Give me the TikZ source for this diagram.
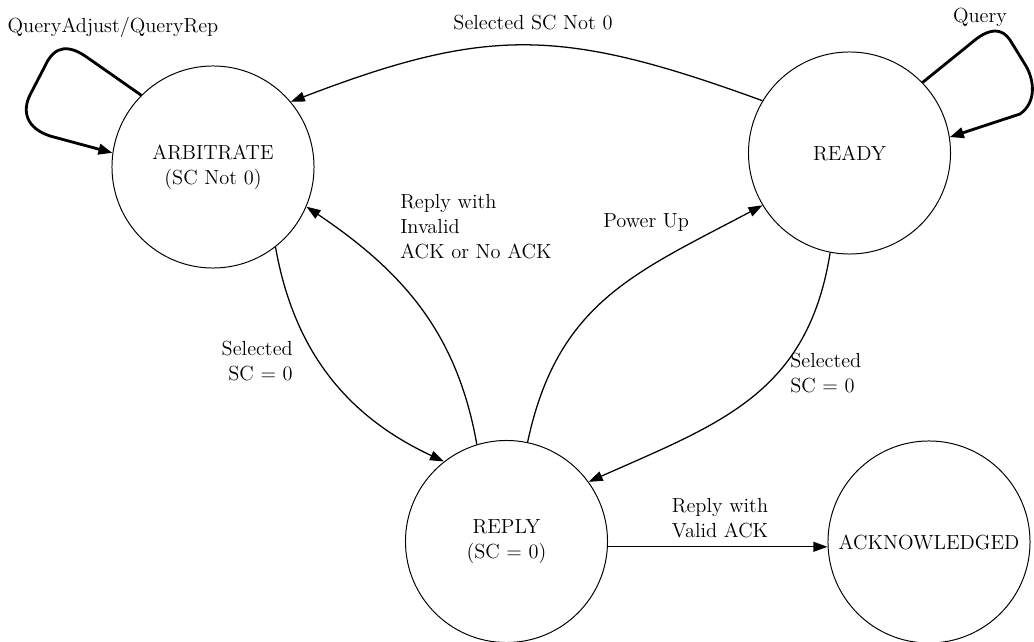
\documentclass[tikz,border=0pt]{standalone}
\usetikzlibrary{arrows.meta}
\begin{document}
\begin{tikzpicture}[x=0.025cm,y=0.025cm,
  every node/.style={font=\fontsize{14.5}{17.8}\selectfont, inner sep=0pt},
  state/.style={circle, draw, line width=0.7pt, minimum size=5.05cm, align=center},
  trans/.style={line width=0.9pt, -{Triangle[length=10pt,width=7pt]}},
  selfloop/.style={line width=2pt, line join=round, -{Triangle[length=10pt,width=7.5pt]}}]
\useasboundingbox (0,0) rectangle (1034,-642);

% states
\node[state] (arb)   at (213,-167)   {ARBITRATE\\(SC Not 0)};
\node[state] (ready) at (849.5,-153) {READY};
\node[state] (reply) at (506.5,-541.5) {REPLY\\(SC = 0)};
\node[state] (ack)   at (929,-542)   {ACKNOWLEDGED};

% self loops
\draw[selfloop] (arb.135) -- (88,-58)
  .. controls (70,-45) and (55,-44) .. (45,-66) -- (30,-95)
  .. controls (22,-111) and (26,-128) .. (50,-136) -- (arb.172);
\node[anchor=base] (lqa) at (113,-33) {QueryAdjust/QueryRep};

\draw[selfloop] (ready.44) -- (975,-40)
  .. controls (990,-28) and (1002,-28) .. (1010,-40) -- (1026,-66)
  .. controls (1034,-80) and (1037,-102) .. (1020,-114) -- (ready.9);
\node[anchor=base] (lq) at (980,-23) {Query};

% transitions
\draw[trans] (ready.149) to[out=160, in=21, looseness=1.15] (arb.40);
\node[anchor=base] (lsn) at (533,-30) {Selected SC Not 0};

\draw[trans] (arb.-52) to[out=-80, in=155] (reply.128);
\node[anchor=east, align=right] (lsa) at (293,-360.7) {Selected\\SC = 0};

\draw[trans] (reply.107) to[out=100, in=-34] (arb.-23);
\node[anchor=west, align=left] (lri) at (400,-226.2) {Reply with\\Invalid\\ACK or No ACK};

\draw[trans] (reply.78) to[out=78, in=-152, looseness=1.1] (ready.-149);
\node[anchor=base west] (lpu) at (603,-228) {Power Up};

\draw[trans] (ready.-101) to[out=-99, in=24, looseness=1.1] (reply.36);
\node[anchor=west, align=left] (lsr) at (790,-372.7) {Selected\\SC = 0};

\draw[trans] (reply.-3) -- (reply.-3 -| ack.west);
\node[align=center] (lva) at (720,-517.7) {Reply with\\Valid ACK};
\end{tikzpicture}
\end{document}
